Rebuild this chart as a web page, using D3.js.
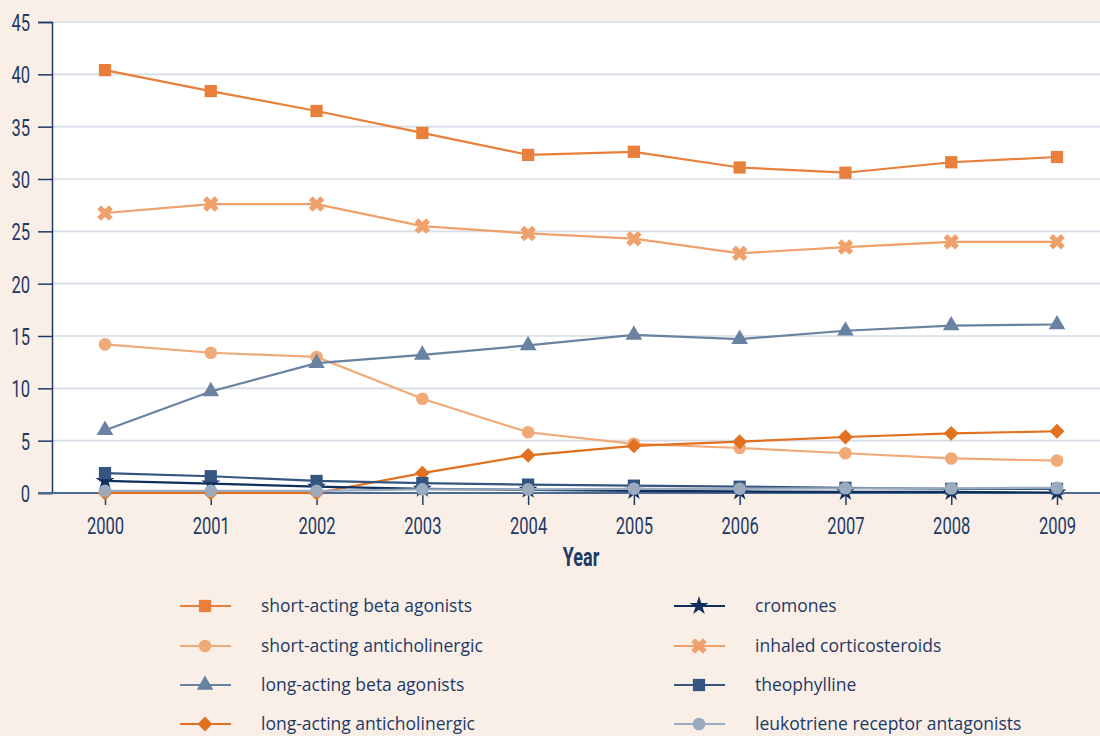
<!DOCTYPE html>
<html>
<head>
<meta charset="utf-8">
<script src="https://cdn.jsdelivr.net/npm/d3@7"></script>
<style>
  body{margin:0;background:#faefe6;}
  svg{display:block;}
  .num{font-family:Roboto,sans-serif;font-size:23px;fill:#1d3a66;}
  .leg{font-family:"Open Sans",sans-serif;font-size:17.5px;fill:#1d3a66;}
</style>
</head>
<body>
<div id="chart"></div>
<script>
// years on the x axis
const years=[2000,2001,2002,2003,2004,2005,2006,2007,2008,2009]
const yTicks=[0,5,10,15,20,25,30,35,40,45]

// values
const shortBeta=[40.4,38.4,36.5,34.4,32.3,32.6,31.1,30.6,31.6,32.1]
const shortAnti=[14.2,13.4,13.0,9.0,5.8,4.7,4.3,3.8,3.3,3.1]
const longBeta=[6.0,9.7,12.4,13.2,14.1,15.1,14.7,15.5,16.0,16.1]
const longAnti=[0,0,0,1.9,3.6,4.5,4.9,5.35,5.7,5.9]
const cromones=[1.15,0.9,0.6,0.4,0.3,0.2,0.15,0.1,0.1,0.05]
const inhaledCS=[26.75,27.6,27.6,25.5,24.8,24.3,22.9,23.5,24.0,24.0]
const theophylline=[1.9,1.6,1.15,0.95,0.8,0.7,0.6,0.5,0.4,0.4]
const leukotriene=[0.2,0.2,0.2,0.35,0.35,0.4,0.4,0.45,0.45,0.5]

const series=[
  {name:"short-acting beta agonists",values:shortBeta,color:"#e87f3a",sym:"square",col:0,row:0},
  {name:"short-acting anticholinergic",values:shortAnti,color:"#f0aa78",sym:"circle",col:0,row:1},
  {name:"long-acting beta agonists",values:longBeta,color:"#6a82a2",sym:"triangle",col:0,row:2},
  {name:"long-acting anticholinergic",values:longAnti,color:"#e2711f",sym:"diamond",col:0,row:3},
  {name:"cromones",values:cromones,color:"#0e2e5c",sym:"star",col:1,row:0},
  {name:"inhaled corticosteroids",values:inhaledCS,color:"#f0a06a",sym:"cross",col:1,row:1},
  {name:"theophylline",values:theophylline,color:"#33557f",sym:"square",col:1,row:2},
  {name:"leukotriene receptor antagonists",values:leukotriene,color:"#9aabbf",sym:"circle",col:1,row:3}
]

const width=1100,height=736
const padLeft=52,padTop=22,axisY=493
const squeeze=0.72 // numbers in the original are a condensed face

const svg=d3.select("#chart").append("svg").attr("width",width).attr("height",height)
svg.append("rect").attr("width",width).attr("height",height).attr("fill","#faefe6")
svg.append("rect").attr("x",padLeft).attr("y",padTop).attr("width",width-padLeft).attr("height",axisY-padTop).attr("fill","#fff")

const x=d3.scalePoint().domain(years).range([105,1057])
const y=d3.scaleLinear().domain([0,45]).range([axisY,padTop])

//gridlines
svg.append("g").selectAll("line").data(yTicks.filter(d=>d>0)).enter().append("line")
  .attr("x1",padLeft).attr("x2",width).attr("y1",d=>y(d)).attr("y2",d=>y(d))
  .attr("stroke","#d5dce5").attr("stroke-width",1.6)

//y axis
const yAxis=svg.append("g").attr("transform",`translate(${padLeft},0)`)
  .call(d3.axisLeft(y).tickValues(yTicks).tickSize(14).tickPadding(8))
yAxis.attr("font-family",null).attr("font-size",null)
yAxis.select(".domain").attr("stroke","#1d3a66").attr("stroke-width",1.5)
yAxis.selectAll(".tick line").attr("stroke","#1d3a66").attr("stroke-width",1.5)
yAxis.selectAll("text").attr("class","num").attr("x",0).attr("dy",8.5)
  .attr("transform",`translate(-22,0) scale(${squeeze},1)`)

//x axis
const xAxis=svg.append("g").attr("transform",`translate(0,${axisY})`)
  .call(d3.axisBottom(x).tickSize(12).tickPadding(14).tickFormat(d3.format("d")))
xAxis.attr("font-family",null).attr("font-size",null)
xAxis.select(".domain").remove()
xAxis.append("line").attr("x1",38).attr("x2",width).attr("stroke","#4a6a92").attr("stroke-width",2)
xAxis.selectAll(".tick line").attr("stroke","#1d3a66").attr("stroke-width",1.5)
xAxis.selectAll("text").attr("class","num").attr("y",41).attr("dy",0)
  .attr("transform",`scale(${squeeze},1)`)

svg.append("text").attr("transform",`translate(581,566) scale(${squeeze},1)`).attr("text-anchor","middle")
  .attr("font-family","Roboto,sans-serif")
  .attr("font-weight","bold").attr("font-size",25).attr("fill","#1d3a66").text("Year")

const symbols={
  square:d3.symbol(d3.symbolSquare,150),
  circle:d3.symbol(d3.symbolCircle,125),
  triangle:d3.symbol(d3.symbolTriangle,120),
  diamond:d3.symbol(d3.symbolSquare,110),
  star:d3.symbol(d3.symbolStar,110),
  cross:d3.symbol(d3.symbolCross,150)
}
const rot=s=>(s=="cross"||s=="diamond")?" rotate(45)":""

const line=d3.line().x((d,i)=>x(years[i])).y(d=>y(d))

// draw lines, then markers
series.forEach(s=>{
  svg.append("path").datum(s.values).attr("d",line).attr("fill","none")
    .attr("stroke",s.color).attr("stroke-width",2.2)
  svg.append("g").selectAll("path").data(s.values).enter().append("path")
    .attr("d",symbols[s.sym]).attr("fill",s.color)
    .attr("transform",(d,i)=>`translate(${x(years[i])},${y(d)})${rot(s.sym)}`)
})

//legend
const legend=svg.append("g")
const colX=[180,674],rowY=[606,646,685,724]
series.forEach(s=>{
  const g=legend.append("g").attr("transform",`translate(${colX[s.col]},${rowY[s.row]})`)
  g.append("line").attr("x1",0).attr("x2",51).attr("stroke",s.color).attr("stroke-width",2.2)
  g.append("path").attr("d",symbols[s.sym]).attr("fill",s.color).attr("transform",`translate(25,0)${rot(s.sym)}`)
  g.append("text").attr("class","leg").attr("x",81).attr("dy","0.35em").text(s.name)
})
</script>
</body>
</html>
